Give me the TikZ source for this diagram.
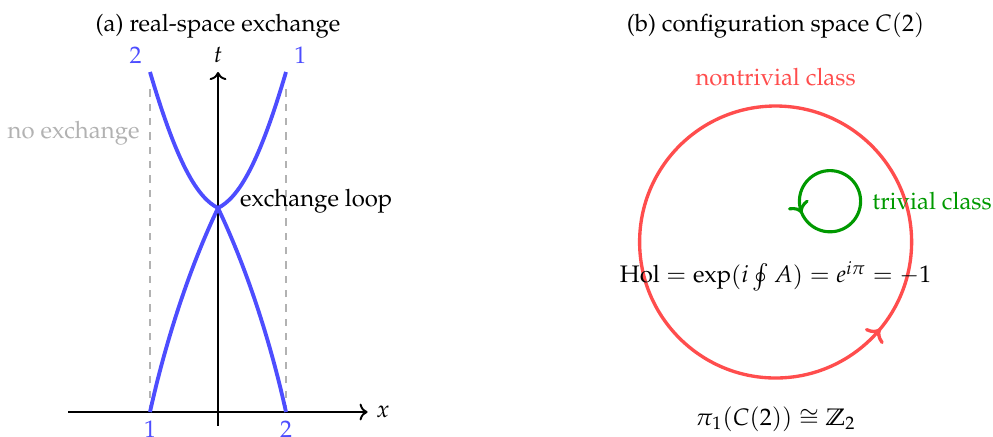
\documentclass[tikz,border=0pt]{standalone}
\usepackage[T1]{fontenc}
\usepackage{amsmath}
\usepackage{mathpazo}
\usepackage{tikz}
\usetikzlibrary{arrows.meta, positioning, decorations.markings}
\definecolor{worldcolor}{RGB}{77,77,255}
\definecolor{loopcolor}{RGB}{255,77,77}
\definecolor{trivcolor}{RGB}{0,153,0}

\begin{document}
\begin{tikzpicture}[
    axis/.style={->, thick},
    world/.style={worldcolor, line width=1.6pt},
    guide/.style={gray!60, dashed, thick},
    loopmark/.style={decoration={markings, mark=at position #1 with {\arrow{>}}}, postaction={decorate}}
]
\useasboundingbox (-3.206,-0.353) rectangle (11.397,6.059);

% (a) real-space worldlines
\coordinate (xl) at (-2.2,0);
\coordinate (xr) at (2.2,0);
\coordinate (tb) at (0,-0.2);
\coordinate (tt) at (0,5);
\coordinate (a1) at (-1,0);
\coordinate (a2) at (1,0);
\coordinate (b2) at (-1,5);
\coordinate (b1) at (1,5);
\coordinate (g1) at (-1,4.8);
\coordinate (g2) at (1,4.8);
\coordinate (cross) at (0,3);

\draw[guide] (a1) -- (g1);
\draw[guide] (a2) -- (g2);
\draw[axis] (xl) -- (xr) node[right] (xlab) {$x$};
\draw[axis] (tb) -- (tt) node[above] (tlab) {$t$};

\draw[world] (a1) .. controls (-0.78,1.0) and (-0.43,2.1) .. (cross) .. controls (0.3,3.15) and (0.6,3.64) .. (b1);
\draw[world] (a2) .. controls (0.78,1.0) and (0.43,2.1) .. (cross) .. controls (-0.3,3.15) and (-0.6,3.64) .. (b2);

\node[worldcolor, above left] (top2) at (b2) {2};
\node[worldcolor, above right] (top1) at (b1) {1};
\node[worldcolor, below] (bot1) at (a1) {1};
\node[worldcolor, below] (bot2) at (a2) {2};
\node[gray!60, left] (noex) at (-1.03,4.1) {no exchange};
\node[right] (exloop) at (0.2,3.1) {exchange loop};
\node[anchor=base] (titlea) at (0,5.6) {(a) real-space exchange};

% (b) configuration space
\coordinate (cc) at (8.2,2.5);
\coordinate (tc) at (9.0,3.1);
\draw[loopcolor, line width=1.4pt, loopmark=0.89] (cc) circle[radius=2];
\draw[trivcolor, line width=1.3pt, loopmark=0.565] (tc) circle[radius=0.45];

\node[anchor=base] (titleb) at (8.2,5.6) {(b) configuration space $C(2)$};
\node[loopcolor] (nontriv) at (8.2,4.93) {nontrivial class};
\node[trivcolor, right] (triv) at (9.5,3.1) {trivial class};
\node (hol) at (8.2,2.0) {$\mathrm{Hol} = \exp\!\left(i\oint A\right) = e^{i\pi} = -1$};
\node (pione) at (8.2,-0.1) {$\pi_1(C(2)) \cong \mathbb{Z}_2$};
\end{tikzpicture}
\end{document}
